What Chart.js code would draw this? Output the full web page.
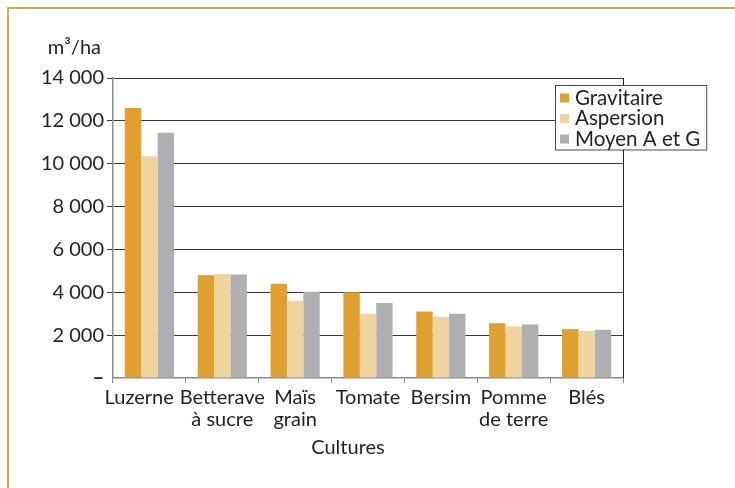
<!DOCTYPE html>
<html><head><meta charset="utf-8">
<script src="https://cdn.jsdelivr.net/npm/chart.js@4/dist/chart.umd.min.js"></script>
<style>
html,body{margin:0;padding:0;background:#fff;}
#wrap{position:relative;width:735px;height:488px;overflow:hidden;}
#frame{position:absolute;left:7px;top:7px;width:740px;height:500px;border-top:2px solid #e6a43c;border-left:2px solid #e6a43c;}
canvas{position:absolute;left:0;top:0;}
</style></head><body>
<div id="wrap"><div id="frame"></div><canvas id="c" width="735" height="488"></canvas></div>
<script>
const categories = [["Luzerne"],["Betterave","à sucre"],["Maïs","grain"],["Tomate"],["Bersim"],["Pomme","de terre"],["Blés"]];
const seriesNames = ["Gravitaire","Aspersion","Moyen A et G"];
const gravitaire = [12600,4800,4400,4000,3100,2550,2280];
const aspersion  = [10350,4850,3600,3000,2850,2400,2200];
const moyen      = [11450,4830,4030,3500,3000,2500,2250];
const yTickValues = [0,2000,4000,6000,8000,10000,12000,14000];
const yTickLabels = ["–","2 000","4 000","6 000","8 000","10 000","12 000","14 000"];
const yUnit = "m³/ha";
const xTitle = "Cultures";
const seriesColors = ["#dfa030","#f0d4a0","#aeafb2"];

const FONT = "Lato";
const TXT = "#231f20";

const extras = {
  id: "extras",
  afterDraw(chart) {
    const ctx = chart.ctx, a = chart.chartArea, y = chart.scales.y;
    ctx.save();
    // right frame of plot
    ctx.strokeStyle = "#231f20"; ctx.lineWidth = 1;
    ctx.beginPath(); ctx.moveTo(Math.round(a.right)+0.5, a.top); ctx.lineTo(Math.round(a.right)+0.5, a.bottom); ctx.stroke();
    // unit label
    ctx.fillStyle = TXT; ctx.font = "20px " + FONT; ctx.textAlign = "right"; ctx.textBaseline = "middle";
    ctx.fillText(yUnit, y.right - 12, a.top - 30);
    // x axis title
    ctx.textAlign = "center";
    ctx.fillText(xTitle, (a.left + a.right) / 2 - 20, a.bottom + 70);
    // legend
    const ds = chart.data.datasets;
    ctx.font = "20.5px " + FONT;
    let w = 0; ds.forEach(d => { w = Math.max(w, ctx.measureText(d.label).width); });
    const lx = a.right - 68, ly = a.top + 7, rowH = 20.5;
    const bw = 20 + w + 6, bh = rowH * ds.length + 3;
    ctx.fillStyle = "#fff"; ctx.fillRect(lx, ly, bw, bh);
    ctx.strokeStyle = "#4a4a4a"; ctx.strokeRect(lx + 0.5, ly + 0.5, bw, bh);
    ds.forEach((d, i) => {
      const cy = ly + 13 + i * rowH;
      ctx.fillStyle = d.backgroundColor; ctx.fillRect(lx + 5, cy - 4.5, 9, 9);
      ctx.fillStyle = TXT; ctx.textAlign = "left"; ctx.textBaseline = "middle";
      ctx.fillText(d.label, lx + 20, cy);
    });
    ctx.restore();
  }
};

new Chart(document.getElementById("c"), {
  type: "bar",
  data: {
    labels: categories,
    datasets: [
      { label: seriesNames[0], data: gravitaire, backgroundColor: seriesColors[0] },
      { label: seriesNames[1], data: aspersion,  backgroundColor: seriesColors[1] },
      { label: seriesNames[2], data: moyen,      backgroundColor: seriesColors[2] }
    ]
  },
  options: {
    responsive: false, animation: false, devicePixelRatio: 1,
    layout: { padding: { top: 78, right: 112, bottom: 57, left: 0 } },
    datasets: { bar: { barPercentage: 1, categoryPercentage: 0.675, borderWidth: 0 } },
    plugins: { legend: { display: false }, tooltip: { enabled: false } },
    scales: {
      x: {
        grid: { drawOnChartArea: false, drawTicks: true, tickLength: 5, color: "#8a8a8a", offset: true },
        border: { color: "#8a8a8a", width: 1.5 },
        ticks: {
          color: TXT, font: { family: FONT, size: 20, lineHeight: 1.1 }, padding: 4, maxRotation: 0, autoSkip: false,
          callback: (v, i) => i === 0 ? categories[i].map(s => s + "    ") : categories[i]
        },
        afterFit(s) { s.height = 53; }
      },
      y: {
        min: 0, max: 14000,
        afterFit(s) { s.width = 113; },
        afterBuildTicks(s) { s.ticks = yTickValues.map(v => ({ value: v })); },
        grid: {
          color: c => (c.tick && c.tick.value === 0) ? "rgba(0,0,0,0)" : "#3a3a3a",
          tickLength: 6, lineWidth: 1
        },
        border: { color: "#8a8a8a", width: 1.5 },
        ticks: {
          color: TXT, padding: 3,
          font: c => ({ family: FONT, size: 20, weight: (c.tick && c.tick.value === 0) ? "bold" : "normal" }),
          callback: (v) => yTickLabels[yTickValues.indexOf(v)]
        }
      }
    }
  },
  plugins: [extras]
});
</script>
</body></html>
